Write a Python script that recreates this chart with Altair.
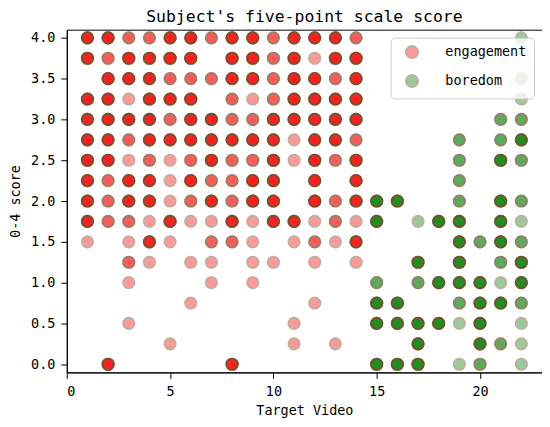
import altair as alt
import pandas as pd

# ---- data (score rows, videos in row, overlap counts) ----
eng_scores = [4.0, 3.75, 3.5, 3.25, 3.0, 2.75, 2.5, 2.25, 2.0, 1.75, 1.5, 1.25, 1.0, 0.75, 0.5, 0.25, 0.0]
eng_videos = [
    [1, 2, 3, 4, 5, 6, 7, 8, 9, 10, 11, 12, 13, 14],
    [1, 2, 3, 4, 5, 6, 8, 9, 10, 11, 12, 13, 14],
    [2, 3, 4, 5, 6, 7, 8, 9, 10, 11, 12, 13, 14],
    [1, 2, 3, 4, 5, 6, 8, 9, 10, 11, 12, 13, 14],
    [1, 2, 3, 4, 5, 6, 7, 8, 9, 10, 11, 12, 13, 14],
    [1, 2, 3, 4, 5, 6, 7, 8, 9, 10, 11, 12, 13, 14],
    [1, 2, 3, 4, 5, 6, 7, 8, 9, 10, 11, 12, 13, 14],
    [1, 2, 3, 4, 5, 6, 7, 8, 9, 10, 12, 14],
    [1, 2, 3, 4, 5, 6, 7, 8, 9, 10, 12, 13, 14],
    [1, 2, 3, 4, 5, 6, 7, 8, 9, 10, 11, 12, 13, 14],
    [1, 3, 4, 5, 7, 8, 9, 11, 12, 13, 14],
    [3, 4, 6, 7, 9, 10, 12, 14],
    [3, 7, 9],
    [6, 12],
    [3, 11],
    [5, 11, 13],
    [2, 8],
]
eng_counts = [
    [4, 4, 2, 2, 4, 4, 2, 4, 4, 2, 4, 4, 4, 2],
    [4, 2, 4, 4, 4, 4, 4, 4, 2, 4, 1, 4, 4],
    [4, 4, 4, 2, 2, 2, 4, 4, 2, 4, 4, 2, 4],
    [4, 4, 1, 4, 4, 4, 2, 1, 2, 4, 4, 4, 4],
    [4, 4, 4, 4, 2, 4, 4, 2, 2, 4, 4, 4, 4, 4],
    [4, 4, 2, 4, 4, 4, 4, 4, 4, 4, 1, 4, 4, 2],
    [4, 4, 1, 2, 1, 2, 4, 2, 2, 4, 1, 4, 2, 4],
    [4, 2, 4, 4, 1, 4, 2, 2, 4, 4, 4, 4],
    [4, 2, 4, 4, 1, 2, 4, 2, 4, 4, 4, 2, 4],
    [4, 2, 2, 1, 4, 1, 1, 4, 1, 4, 4, 1, 2, 1],
    [1, 1, 4, 1, 2, 2, 1, 1, 2, 1, 4],
    [2, 1, 1, 1, 1, 1, 1, 1],
    [1, 1, 1],
    [1, 1],
    [1, 1],
    [1, 1, 1],
    [4, 4],
]

bor_scores = [4.0, 3.5, 3.25, 3.0, 2.75, 2.5, 2.25, 2.0, 1.75, 1.5, 1.25, 1.0, 0.75, 0.5, 0.25, 0.0]
bor_videos = [
    [22],
    [22],
    [22],
    [21, 22],
    [19, 21, 22],
    [19, 21, 22],
    [19],
    [15, 16, 19, 21, 22],
    [15, 17, 18, 19, 21, 22],
    [19, 20, 21, 22],
    [17, 19, 21, 22],
    [15, 17, 18, 19, 20, 21, 22],
    [15, 16, 19, 20, 21, 22],
    [15, 16, 17, 18, 19, 20, 22],
    [17, 20, 21, 22],
    [15, 16, 17, 19, 20, 22],
]
bor_counts = [
    [1],
    [1],
    [1],
    [2, 2],
    [2, 2, 4],
    [2, 4, 2],
    [2],
    [4, 4, 2, 4, 2],
    [4, 1, 4, 4, 4, 1],
    [4, 2, 4, 2],
    [4, 4, 2, 4],
    [2, 2, 4, 4, 4, 1, 4],
    [4, 4, 2, 4, 4, 2],
    [4, 4, 4, 4, 1, 4, 1],
    [4, 4, 2, 1],
    [4, 4, 4, 1, 2, 1],
]

series_names = ["engagement", "boredom"]
series_colors = ["red", "green"]
x_ticks = [0, 5, 10, 15, 20]
y_ticks = [0.0, 0.5, 1.0, 1.5, 2.0, 2.5, 3.0, 3.5, 4.0]

rows = []
for name, scores, videos, counts in [
    ("engagement", eng_scores, eng_videos, eng_counts),
    ("boredom", bor_scores, bor_videos, bor_counts),
]:
    for s, vs, cs in zip(scores, videos, counts):
        for v, c in zip(vs, cs):
            for _ in range(c):
                rows.append({"video": v, "score": s, "kind": name})
df = pd.DataFrame(rows)

FONT = "DejaVu Sans Mono"
EDGE = "#5c3a10"

chart = (
    alt.Chart(df)
    .mark_circle(size=130, opacity=0.4, stroke=EDGE, strokeWidth=1.8)
    .encode(
        x=alt.X(
            "video:Q",
            scale=alt.Scale(domain=[0, 23], nice=False, zero=False),
            axis=alt.Axis(title="Target Video", values=x_ticks, format="d"),
        ),
        y=alt.Y(
            "score:Q",
            scale=alt.Scale(domain=[-0.1, 4.1], nice=False, zero=False),
            axis=alt.Axis(title="0-4 score", values=y_ticks, format=".1f"),
        ),
        color=alt.Color(
            "kind:N",
            scale=alt.Scale(domain=series_names, range=series_colors),
            sort=series_names,
            legend=alt.Legend(
                title=None,
                orient="none",
                legendX=325,
                legendY=8,
                fillColor="rgba(255,255,255,0.8)",
                strokeColor="#cccccc",
                cornerRadius=4,
                padding=7,
                symbolType="circle",
                symbolSize=150,
                symbolOpacity=0.4,
                symbolStrokeColor=EDGE,
                symbolStrokeWidth=1.8,
                symbolOffset=7,
                labelOffset=26,
                rowPadding=8,
                labelFont=FONT,
                labelFontSize=13.5,
                labelColor="black",
            ),
        ),
        order=alt.Order("kind:N", sort="descending"),
    )
    .properties(
        width=477,
        height=344,
        padding={"left": 0, "top": 0, "right": 0, "bottom": 0},
        title=alt.TitleParams(
            "Subject's five-point scale score",
            font=FONT,
            fontSize=16.5,
            fontWeight="normal",
            color="black",
            offset=3,
        ),
    )
    .configure_view(stroke="black", strokeWidth=1)
    .configure_axis(
        grid=False,
        domainColor="black",
        tickColor="black",
        tickSize=6,
        labelPadding=6,
        labelFont=FONT,
        labelFontSize=13.5,
        labelColor="black",
        titleFont=FONT,
        titleFontSize=13.5,
        titleFontWeight="normal",
        titleColor="black",
    )
    .configure_axisY(titlePadding=8)
    .configure_axisX(titlePadding=6)
)

chart.save("out.html", embed_options={"renderer": "svg", "actions": False})
